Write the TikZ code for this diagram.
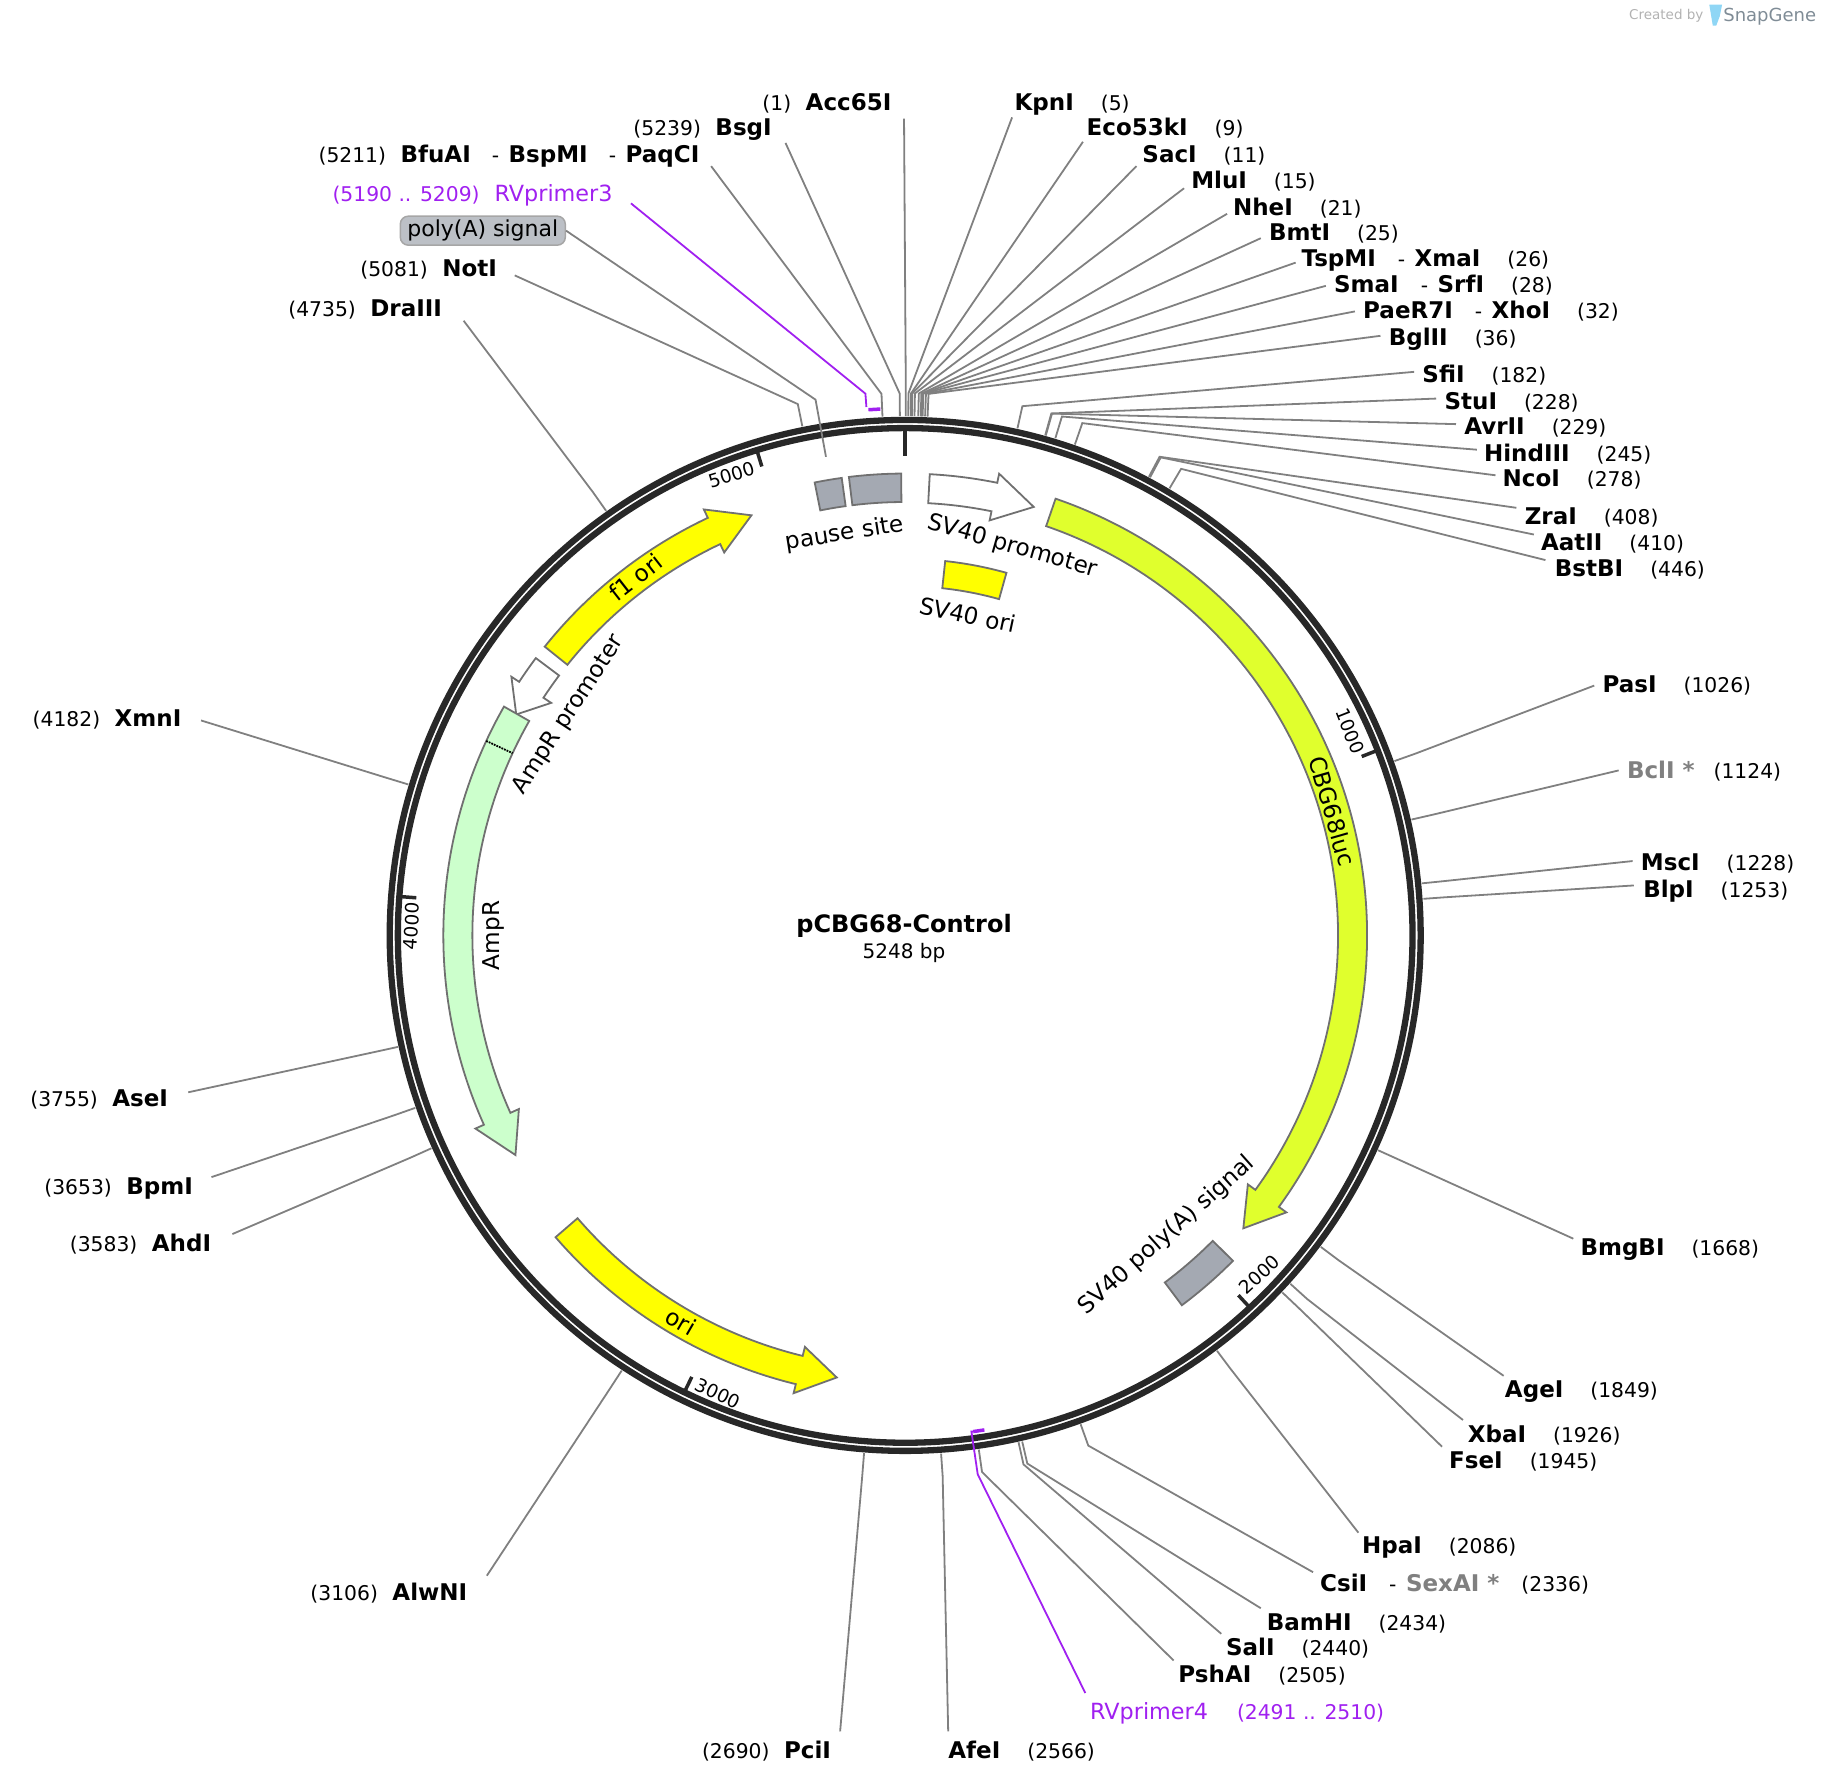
\documentclass[tikz,border=0pt]{standalone}
\usepackage{fontspec}
\setmainfont{DejaVu Sans}
\definecolor{ringcol}{HTML}{282828}
\definecolor{linecol}{HTML}{808080}
\definecolor{edgecol}{HTML}{707070}
\definecolor{primercol}{HTML}{A020F0}
\definecolor{lucol}{HTML}{E0FF2D}
\definecolor{oricol}{HTML}{FFFF00}
\definecolor{ampcol}{HTML}{CCFFCC}
\definecolor{regcol}{HTML}{A4A9B2}
\definecolor{pillcol}{HTML}{BCC0C6}
\definecolor{logocol}{HTML}{7F8C96}
\definecolor{tubecol}{HTML}{8FD6F5}
\newcommand{\bn}[1]{{\fontsize{23}{26}\selectfont\bfseries #1}}
\newcommand{\pn}[1]{{\fontsize{22.3}{26}\selectfont #1}}
\tikzset{
  enz/.style={anchor=base west, inner sep=0pt, yshift=-1.2pt, font=\fontsize{20.3}{24}\selectfont},
  primer/.style={enz, text=primercol},
  feat/.style={draw=edgecol, line width=1.8pt, line join=miter},
  featlabel/.style={inner sep=0pt, font=\fontsize{23.2}{26}\selectfont},
  ticklabel/.style={inner sep=0pt, font=\fontsize{18.5}{22}\selectfont},
  cutline/.style={draw=linecol, line width=1.8pt},
  ringline/.style={draw=ringcol, line width=6.3pt},
  tickmark/.style={draw=ringcol, line width=3.5pt}
}
\begin{document}
\begin{tikzpicture}[x=1.162pt, y=-1.162pt]
\useasboundingbox (0,0) rectangle (1568,1535.3);
\coordinate (C) at (779,805);
% top left labels
\node[enz] (Acc65I) at (656,94) {(1)\hspace{14.5pt}\bn{Acc65I}};
\node[enz] (BsgI) at (545,116) {(5239)\hspace{14.5pt}\bn{BsgI}};
\node[enz] (BfuAI) at (274,139) {(5211)\hspace{14.5pt}\bn{BfuAI}\hspace{21pt}-\hspace{9.5pt}\bn{BspMI}\hspace{21pt}-\hspace{9.5pt}\bn{PaqCI}};
\node[primer] (RVprimer3) at (286,172) {(5190 .. 5209)\hspace{15pt}\pn{RVprimer3}};
\node[inner sep=0pt, minimum width=165pt, minimum height=29pt, rounded corners=8pt, draw=linecol!70, line width=1.5pt, fill=pillcol, font=\fontsize{22}{26}\selectfont] (polyA) at (415.5,198.5) {poly(A) signal};
\node[enz] (NotI) at (310,237) {(5081)\hspace{14.5pt}\bn{NotI}};
\node[enz] (DraIII) at (248,271) {(4735)\hspace{14.5pt}\bn{DraIII}};
\node[enz] (XmnI) at (28,624) {(4182)\hspace{14.5pt}\bn{XmnI}};
\node[enz] (AseI) at (26,951) {(3755)\hspace{14.5pt}\bn{AseI}};
\node[enz] (BpmI) at (38,1027) {(3653)\hspace{14.5pt}\bn{BpmI}};
\node[enz] (AhdI) at (60,1076) {(3583)\hspace{14.5pt}\bn{AhdI}};
\node[enz] (AlwNI) at (267,1376) {(3106)\hspace{14.5pt}\bn{AlwNI}};
\node[enz] (PciI) at (604,1512) {(2690)\hspace{14.5pt}\bn{PciI}};
% bottom right labels
\node[enz] (AfeI) at (816,1512) {\bn{AfeI}\hspace{27pt}(2566)};
\node[primer] (RVprimer4) at (938,1479) {\pn{RVprimer4}\hspace{29pt}(2491 .. 2510)};
\node[enz] (PshAI) at (1014,1447) {\bn{PshAI}\hspace{27pt}(2505)};
\node[enz] (SalI) at (1055,1424) {\bn{SalI}\hspace{27pt}(2440)};
\node[enz] (BamHI) at (1090,1402) {\bn{BamHI}\hspace{27pt}(2434)};
\node[enz] (CsiI) at (1136,1369) {\bn{CsiI}\hspace{22pt}-\hspace{9.5pt}\bn{\textcolor{linecol}{SexAI *}}\hspace{22pt}(2336)};
\node[enz] (HpaI) at (1172,1336) {\bn{HpaI}\hspace{27pt}(2086)};
\node[enz] (FseI) at (1247,1263) {\bn{FseI}\hspace{27pt}(1945)};
\node[enz] (XbaI) at (1263,1240) {\bn{XbaI}\hspace{27pt}(1926)};
\node[enz] (AgeI) at (1295,1202) {\bn{AgeI}\hspace{27pt}(1849)};
\node[enz] (BmgBI) at (1360,1079) {\bn{BmgBI}\hspace{27pt}(1668)};
\node[enz] (BlpI) at (1414,771) {\bn{BlpI}\hspace{27pt}(1253)};
\node[enz] (MscI) at (1412,748) {\bn{MscI}\hspace{27pt}(1228)};
\node[enz] (BclI) at (1400,669) {\bn{\textcolor{linecol}{BclI *}}\hspace{19pt}(1124)};
\node[enz] (PasI) at (1379,595) {\bn{PasI}\hspace{27pt}(1026)};
% top right labels
\node[enz] (BstBI) at (1338,495) {\bn{BstBI}\hspace{27pt}(446)};
\node[enz] (AatII) at (1326,473) {\bn{AatII}\hspace{27pt}(410)};
\node[enz] (ZraI) at (1312,450) {\bn{ZraI}\hspace{27pt}(408)};
\node[enz] (NcoI) at (1293,418) {\bn{NcoI}\hspace{27pt}(278)};
\node[enz] (HindIII) at (1277,396) {\bn{HindIII}\hspace{27pt}(245)};
\node[enz] (AvrII) at (1260,373) {\bn{AvrII}\hspace{27pt}(229)};
\node[enz] (StuI) at (1243,351) {\bn{StuI}\hspace{27pt}(228)};
\node[enz] (SfiI) at (1224,328) {\bn{SfiI}\hspace{27pt}(182)};
\node[enz] (BglII) at (1195,296) {\bn{BglII}\hspace{27pt}(36)};
\node[enz] (PaeR7I) at (1173,273) {\bn{PaeR7I}\hspace{22pt}-\hspace{9.5pt}\bn{XhoI}\hspace{27pt}(32)};
\node[enz] (SmaI) at (1148,251) {\bn{SmaI}\hspace{22pt}-\hspace{9.5pt}\bn{SrfI}\hspace{27pt}(28)};
\node[enz] (TspMI) at (1120,228) {\bn{TspMI}\hspace{22pt}-\hspace{9.5pt}\bn{XmaI}\hspace{27pt}(26)};
\node[enz] (BmtI) at (1092,206) {\bn{BmtI}\hspace{27pt}(25)};
\node[enz] (NheI) at (1061,184) {\bn{NheI}\hspace{27pt}(21)};
\node[enz] (MluI) at (1025,161) {\bn{MluI}\hspace{27pt}(15)};
\node[enz] (SacI) at (983,139) {\bn{SacI}\hspace{27pt}(11)};
\node[enz] (Eco53kI) at (935,116) {\bn{Eco53kI}\hspace{27pt}(9)};
\node[enz] (KpnI) at (873,94) {\bn{KpnI}\hspace{27pt}(5)};
% lines from the labels to the ring
\foreach \n/\p/\x/\y in {Acc65I/1/778/102, BsgI/5239/676/123, BfuAI/5211/612/143, NotI/5081/443/237,
  DraIII/4735/399/276, XmnI/4182/173/620, AseI/3755/162/940, BpmI/3653/182/1013, AhdI/3583/200/1062,
  AlwNI/3106/419/1356, PciI/2690/723/1490, AfeI/2566/816/1490, PshAI/2505/1010/1429, SalI/2440/1051/1406,
  BamHI/2434/1085/1384, CsiI/2336/1130/1353, HpaI/2086/1169/1319, FseI/1945/1241/1245, XbaI/1926/1259/1222,
  AgeI/1849/1294/1184, BmgBI/1668/1354/1066, BlpI/1253/1406/762, MscI/1228/1405/741, BclI/1124/1393/663,
  PasI/1026/1372/590, BstBI/446/1330/482, AatII/410/1320/460, ZraI/408/1305/437, NcoI/278/1287/409,
  HindIII/245/1271/387, AvrII/229/1253/365, StuI/228/1236/343, SfiI/182/1217/320, BglII/36/1188/289,
  PaeR7I/32/1166/268, SmaI/28/1141/246, TspMI/26/1115/226, BmtI/25/1085/205, NheI/21/1056/184,
  MluI/15/1019/162, SacI/11/978/143, Eco53kI/9/932/122, KpnI/5/871/101} {
  \pgfmathsetmacro\a{\p*0.068598-90}
  \coordinate (\n-f) at (\x,\y);
  \coordinate (\n-e) at ([shift={(\a:466.5)}]C);
  \coordinate (\n-r) at ([shift={(\a:447)}]C);
  \draw[cutline] (\n-f) -- (\n-e) -- (\n-r);
}
% poly(A) signal runs through the ring, primers are purple
\coordinate (polyA-e) at ([shift={(-99.5:467.5)}]C);
\coordinate (polyA-r) at ([shift={(-99.4:417.5)}]C);
\coordinate (RV3-f) at (543,175);
\coordinate (RV3-e) at ([shift={(-94.2:467.5)}]C);
\coordinate (RV3-r) at ([shift={(-94.2:456)}]C);
\coordinate (RV3-a) at ([shift={(-94:453.5)}]C);
\coordinate (RV3-b) at ([shift={(-92.7:453.5)}]C);
\coordinate (RV4-f) at (934,1457);
\coordinate (RV4-e) at (841.4,1268.7);
\coordinate (RV4-r) at (836,1232);
\coordinate (RV4-a) at ([shift={(82.2:431)}]C);
\coordinate (RV4-b) at ([shift={(80.9:431)}]C);
% ring
\draw[ringline] (C) circle[radius=443.6];
\draw[ringline] (C) circle[radius=436.6];
\draw[cutline] (polyA.east) -- (polyA-e) -- (polyA-r);
\draw[draw=primercol, line width=1.8pt] (RV3-f) -- (RV3-e) -- (RV3-r);
\draw[draw=primercol, line width=3.5pt] (RV3-a) -- (RV3-b);
\draw[draw=primercol, line width=1.8pt] (RV4-f) -- (RV4-e) -- (RV4-r) -- (RV4-a);
\draw[draw=primercol, line width=3.5pt] (RV4-a) -- (RV4-b);
\begin{scope}[shift={(C)}]
% ticks
\draw[ringline, line width=4.5pt] (-90:437) -- (-90:413);
\draw[tickmark] (-21.4:437) -- (-21.4:422);
\draw[tickmark] (47.2:437) -- (47.2:422);
\draw[tickmark] (115.8:437) -- (115.8:422);
\draw[tickmark] (184.4:437) -- (184.4:422);
\draw[tickmark] (253:437) -- (253:422);
% features
\draw[feat, fill=lucol] (-71:397.5) arc[start angle=-71, end angle=36, radius=397.5] -- (36:405.5) -- (40.9:385) -- (36:364.5) -- (36:372.5) arc[start angle=36, end angle=-71, radius=372.5] -- cycle;
\draw[feat, fill=white] (-86.95:397.5) arc[start angle=-86.95, end angle=-78.5, radius=397.5] -- (-78.5:405.5) -- (-73.3:385) -- (-78.5:364.5) -- (-78.5:372.5) arc[start angle=-78.5, end angle=-86.95, radius=372.5] -- cycle;
\draw[feat, fill=oricol] (218.7:397.5) arc[start angle=218.7, end angle=244.7, radius=397.5] -- (244.7:405.5) -- (249.9:385) -- (244.7:364.5) -- (244.7:372.5) arc[start angle=244.7, end angle=218.7, radius=372.5] -- cycle;
\draw[feat, fill=white] (216.9:397.5) arc[start angle=216.9, end angle=213.3, radius=397.5] -- (213.3:405.5) -- (209.6:385) -- (213.3:364.5) -- (213.3:372.5) arc[start angle=213.3, end angle=216.9, radius=372.5] -- cycle;
\draw[feat, fill=ampcol] (209.7:397.5) arc[start angle=209.7, end angle=155.8, radius=397.5] -- (155.8:405.5) -- (150.6:385) -- (155.8:364.5) -- (155.8:372.5) arc[start angle=155.8, end angle=209.7, radius=372.5] -- cycle;
\draw[densely dotted, line width=1.8pt] (204.9:397.5) -- (204.9:372.5);
\draw[feat, fill=oricol] (139.2:397.5) arc[start angle=139.2, end angle=103.7, radius=397.5] -- (103.7:405.5) -- (98.8:385) -- (103.7:364.5) -- (103.7:372.5) arc[start angle=103.7, end angle=139.2, radius=372.5] -- cycle;
\draw[feat, fill=regcol] (258.7:397.5) arc[start angle=258.7, end angle=262.1, radius=397.5] -- (262.1:373) arc[start angle=262.1, end angle=258.7, radius=373] -- cycle;
\draw[feat, fill=regcol] (263:397.5) arc[start angle=263, end angle=269.5, radius=397.5] -- (269.5:373) arc[start angle=269.5, end angle=263, radius=373] -- cycle;
\draw[feat, fill=oricol] (-83.9:324) arc[start angle=-83.9, end angle=-74.4, radius=324] -- (-74.4:300.5) arc[start angle=-74.4, end angle=-83.9, radius=300.5] -- cycle;
\draw[feat, fill=regcol] (44.8:397.5) arc[start angle=44.8, end angle=53.2, radius=397.5] -- (53.2:373) arc[start angle=53.2, end angle=44.8, radius=373] -- cycle;
\end{scope}
% tick labels
\node[ticklabel, rotate=-68.6] (t1000) at (1162,629) {1000};
\node[ticklabel, rotate=42.8] (t2000) at (1084,1097) {2000};
\node[ticklabel, rotate=-25.8] (t3000) at (618,1199) {3000};
\node[ticklabel, rotate=85.6] (t4000) at (354,797) {4000};
\node[ticklabel, rotate=17] (t5000) at (629.5,408.5) {5000};
% feature labels
\node[featlabel, rotate=9] (pausesite) at (727,459.5) {pause site};
\node[featlabel, rotate=-16] (SV40prom) at (871.5,470.5) {SV40 promoter};
\node[featlabel, rotate=-12] (SV40ori) at (833,529) {SV40 ori};
\node[featlabel, rotate=38] (f1ori) at (547,497) {f1 ori};
\node[featlabel, rotate=57] (AmpRprom) at (489.5,615) {AmpR promoter};
\node[featlabel, rotate=90] (AmpR) at (425,805) {AmpR};
\node[featlabel, rotate=-74] (CBG68luc) at (1146.5,698) {CBG68luc};
\node[featlabel, rotate=-30] (ori) at (586,1137) {ori};
\node[featlabel, rotate=41.6] (SV40polyA) at (1004,1063) {SV40 poly(A) signal};
% centre
\node[inner sep=0pt, font=\fontsize{24}{26}\selectfont\bfseries] (plasmidname) at (778,797) {pCBG68-Control};
\node[inner sep=0pt, font=\fontsize{20}{24}\selectfont] (plasmidsize) at (778,820) {5248 bp};
% logo
\node[inner sep=0pt, text=black!30, font=\fontsize{13.5}{16}\selectfont] (createdby) at (1434,14) {Created by};
\node[inner sep=0pt, text=logocol, font=\fontsize{18}{22}\selectfont] (snapgene) at (1523,14) {SnapGene};
\fill[tubecol] (1471,4) -- (1482,4) -- (1480,14) -- (1477,22) -- (1474,22) -- cycle;
\end{tikzpicture}
\end{document}
